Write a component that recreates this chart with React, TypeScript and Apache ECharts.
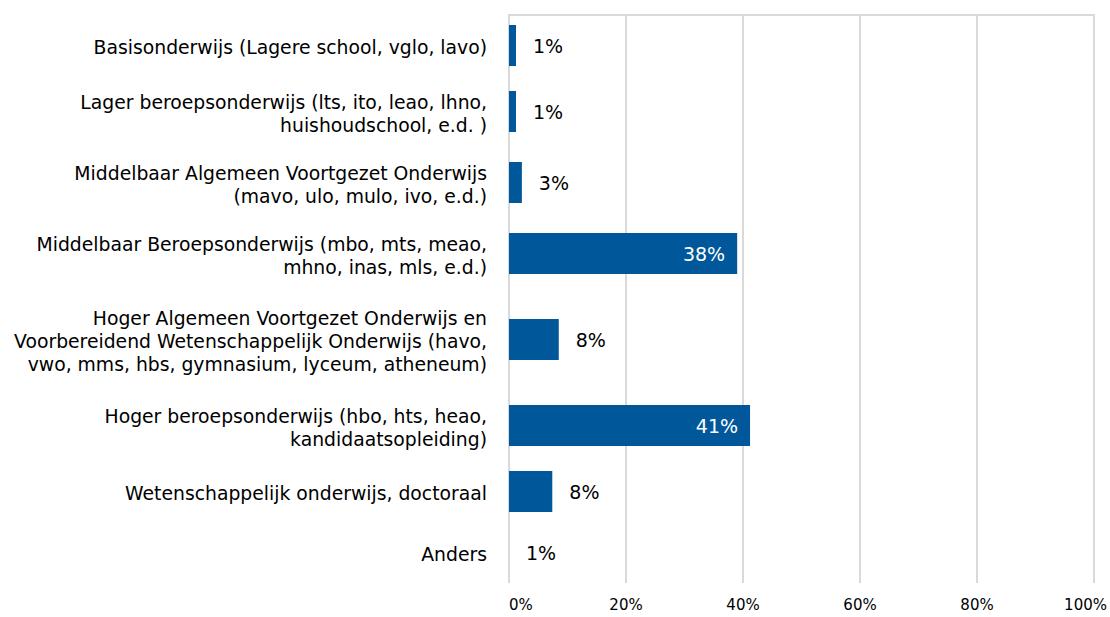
import React, { useEffect, useRef } from "react";
import * as echarts from "echarts";

const categories = [
  "Basisonderwijs (Lagere school, vglo, lavo)",
  "Lager beroepsonderwijs (lts, ito, leao, lhno,\nhuishoudschool, e.d. )",
  "Middelbaar Algemeen Voortgezet Onderwijs\n(mavo, ulo, mulo, ivo, e.d.)",
  "Middelbaar Beroepsonderwijs (mbo, mts, meao,\nmhno, inas, mls, e.d.)",
  "Hoger Algemeen Voortgezet Onderwijs en\nVoorbereidend Wetenschappelijk Onderwijs (havo,\nvwo, mms, hbs, gymnasium, lyceum, atheneum)",
  "Hoger beroepsonderwijs (hbo, hts, heao,\nkandidaatsopleiding)",
  "Wetenschappelijk onderwijs, doctoraal",
  "Anders",
];
const values = [1.2, 1.2, 2.2, 39.0, 8.5, 41.2, 7.4, 0];
const valueLabels = ["1%", "1%", "3%", "38%", "8%", "41%", "8%", "1%"];
const xMin = 0;
const xMax = 100;
const xStep = 20;

export default function App() {
  const ref = useRef<HTMLDivElement>(null);
  useEffect(() => {
    document.body.style.margin = "0";
    const chart = echarts.init(ref.current!, null, { renderer: "svg" });
    const lineCounts = categories.map((c) => c.split("\n").length);
    const rowSpan = [0, 61, 71, 101];
    const spans = lineCounts.map((n) => rowSpan[n]);
    const total = spans.reduce((a, b) => a + b, 0);
    let acc = 0;
    const centers = spans.map((s) => {
      const c = acc + s / 2;
      acc += s;
      return c;
    });
    const data = values.map((v, i) => [v, centers[i], i]);
    const grey = "#d9d9d9";
    const font = "DejaVu Sans";
    chart.setOption({
      animation: false,
      grid: { left: 509, right: 14, top: 15, bottom: 34, containLabel: false },
      xAxis: [
        {
          type: "value",
          min: xMin,
          max: xMax,
          interval: xStep,
          axisLabel: {
            formatter: (v: number) => (v === xMax ? "{m|" + v + "%}" : v + "%"),
            fontSize: 15,
            color: "#000",
            fontFamily: font,
            margin: 14,
            alignMinLabel: "left",
            rich: {
              m: { fontSize: 15, fontFamily: font, color: "#000", padding: [0, 17, 0, 0] },
            },
          },
          splitLine: { show: true, lineStyle: { color: grey, width: 2 } },
          axisLine: { show: true, lineStyle: { color: grey, width: 2 } },
          axisTick: { show: true, length: 7, lineStyle: { color: grey, width: 2 } },
        },
        {
          type: "value",
          position: "top",
          min: xMin,
          max: xMax,
          axisLine: { show: true, lineStyle: { color: grey, width: 2 } },
          axisLabel: { show: false },
          axisTick: { show: false },
          splitLine: { show: false },
        },
      ],
      yAxis: { type: "value", inverse: true, min: 0, max: total, show: false },
      series: [
        {
          type: "custom",
          xAxisIndex: 0,
          yAxisIndex: 0,
          encode: { x: 0, y: 1 },
          clip: false,
          data,
          renderItem: (params: any, api: any) => {
            const v = api.value(0);
            const yc = api.value(1);
            const i = api.value(2);
            const p0 = api.coord([0, yc]);
            const p1 = api.coord([v, yc]);
            const h = 41;
            const inside = v >= 30;
            return {
              type: "group",
              children: [
                {
                  type: "rect",
                  shape: { x: p0[0], y: p0[1] - h / 2, width: p1[0] - p0[0], height: h },
                  style: { fill: "#00579a" },
                },
                {
                  type: "text",
                  x: inside ? p1[0] - 12 : p1[0] + 17,
                  y: p0[1],
                  style: {
                    text: valueLabels[i],
                    fill: inside ? "#fff" : "#000",
                    fontSize: 19,
                    fontFamily: font,
                    align: inside ? "right" : "left",
                    verticalAlign: "middle",
                  },
                },
                {
                  type: "text",
                  x: p0[0] - 22,
                  y: p0[1] + 2,
                  style: {
                    text: categories[i],
                    fill: "#000",
                    fontSize: 18.8,
                    fontFamily: font,
                    align: "right",
                    verticalAlign: "middle",
                    lineHeight: 23,
                  },
                },
              ],
            };
          },
        },
      ],
    });
    return () => chart.dispose();
  }, []);
  return <div ref={ref} style={{ width: 1110, height: 617 }} />;
}
